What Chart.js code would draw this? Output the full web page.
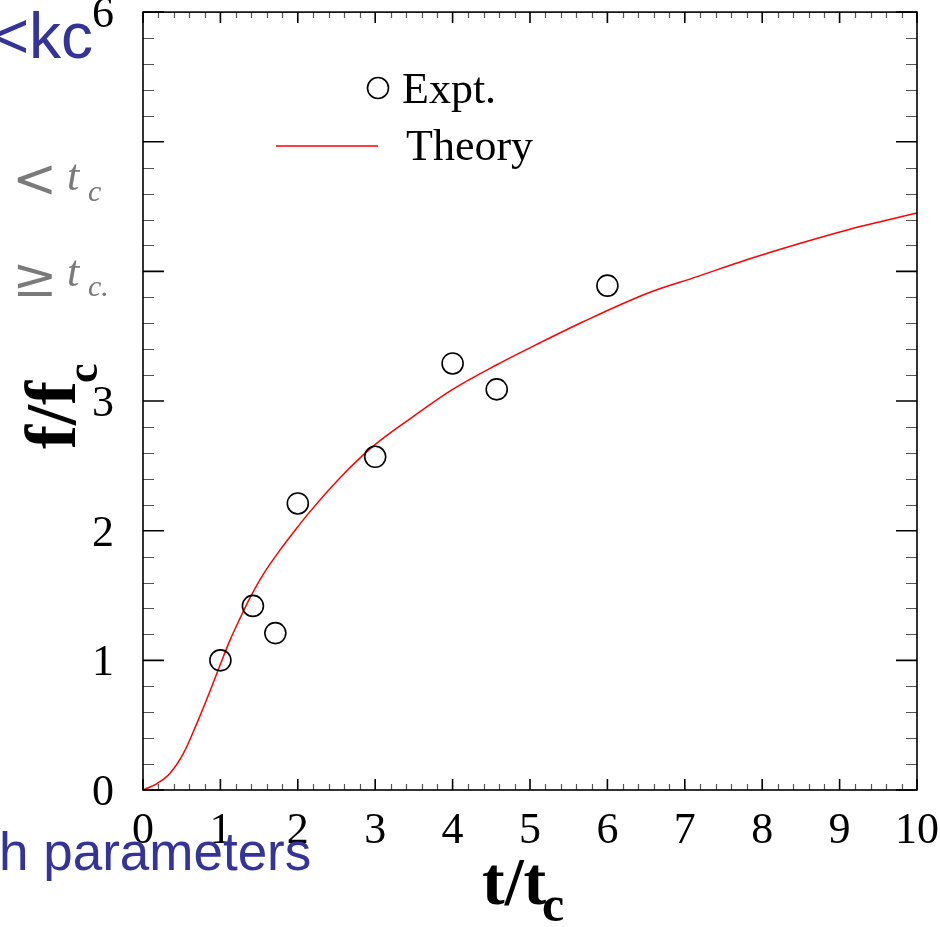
<!DOCTYPE html>
<html>
<head>
<meta charset="utf-8">
<script src="https://cdn.jsdelivr.net/npm/chart.js@4.4.1/dist/chart.umd.min.js"></script>
<style>
  html, body { margin: 0; padding: 0; background: #ffffff; }
  #wrap { width: 940px; height: 927px; position: relative; }
</style>
</head>
<body>
<div id="wrap"><canvas id="c" width="940" height="927"></canvas></div>
<script>
// Measured points (Expt.)
const exptX = [1.0, 1.42, 1.71, 2.0, 3.0, 4.0, 4.57, 6.0];
const exptY = [1.0, 1.42, 1.21, 2.21, 2.57, 3.29, 3.09, 3.89];

// Model curve (Theory)
const theoryX = [0, 0.18, 0.35, 0.52, 0.70, 0.87, 1.0, 1.12, 1.25, 1.38, 1.55, 1.77, 2.0, 2.12, 2.55, 2.97, 3.49, 4.0, 4.57, 5.13, 5.68, 6.51, 7.16, 7.80, 8.45, 9.10, 10];
const theoryY = [0, 0.05, 0.13, 0.28, 0.52, 0.77, 0.97, 1.15, 1.32, 1.48, 1.66, 1.85, 2.03, 2.12, 2.41, 2.65, 2.88, 3.09, 3.28, 3.45, 3.61, 3.83, 3.96, 4.09, 4.21, 4.32, 4.45];

// Axis tick labels
const xTickLabels = ['0', '1', '2', '3', '4', '5', '6', '7', '8', '9', '10'];
const yTickLabels = ['0', '1', '2', '3', '4', '5', '6'];

const seriesNames = ['Expt.', 'Theory'];

const SERIF = '"Liberation Serif", "Times New Roman", serif';
const SANS = '"Liberation Sans", Arial, sans-serif';

// Frame, ROOT-style ticks on all four sides, labels, titles and legend
const framePlugin = {
  id: 'frame',
  afterDatasetsDraw(chart) {
    const ctx = chart.ctx;
    const xs = chart.scales.x, ys = chart.scales.y;
    const a = chart.chartArea;
    ctx.save();

    // minor ticks (every 0.2)
    ctx.strokeStyle = '#555555';
    ctx.lineWidth = 1.2;
    ctx.beginPath();
    for (let i = 1; i < 50; i++) {
      if (i % 5 === 0) continue;
      const px = Math.round(xs.getPixelForValue(i / 5)) + 0.5;
      ctx.moveTo(px, a.bottom); ctx.lineTo(px, a.bottom - 6);
      ctx.moveTo(px, a.top); ctx.lineTo(px, a.top + 6);
    }
    for (let i = 1; i < 30; i++) {
      if (i % 5 === 0) continue;
      const py = Math.round(ys.getPixelForValue(i / 5)) + 0.5;
      ctx.moveTo(a.left, py); ctx.lineTo(a.left + 11, py);
      ctx.moveTo(a.right, py); ctx.lineTo(a.right - 11, py);
    }
    ctx.stroke();

    // major ticks
    ctx.strokeStyle = '#000000';
    ctx.lineWidth = 1.6;
    ctx.beginPath();
    xTickLabels.forEach((t, i) => {
      const px = xs.getPixelForValue(i);
      ctx.moveTo(px, a.bottom); ctx.lineTo(px, a.bottom - 11);
      ctx.moveTo(px, a.top); ctx.lineTo(px, a.top + 11);
    });
    yTickLabels.forEach((t, i) => {
      const py = ys.getPixelForValue(i);
      ctx.moveTo(a.left, py); ctx.lineTo(a.left + 21, py);
      ctx.moveTo(a.right, py); ctx.lineTo(a.right - 21, py);
    });
    ctx.stroke();

    // frame
    ctx.lineWidth = 1.6;
    ctx.strokeRect(a.left, a.top, a.right - a.left, a.bottom - a.top);

    // tick labels
    ctx.fillStyle = '#000000';
    ctx.font = '44px ' + SERIF;
    ctx.textBaseline = 'alphabetic';
    ctx.textAlign = 'center';
    xTickLabels.forEach((t, i) => {
      ctx.fillText(t, xs.getPixelForValue(i), a.bottom + 53);
    });
    ctx.textAlign = 'right';
    yTickLabels.forEach((t, i) => {
      ctx.fillText(t, a.left - 29, ys.getPixelForValue(i) + 15);
    });

    // x title: t/t_c
    ctx.textAlign = 'left';
    ctx.font = 'bold 68px ' + SERIF;
    ctx.fillText('t/t', 482, 904);
    ctx.font = 'bold 50px ' + SERIF;
    ctx.fillText('c', 542, 921);

    // y title: f/f_c (rotated)
    ctx.save();
    ctx.translate(75, 449);
    ctx.rotate(-Math.PI / 2);
    ctx.font = 'bold 72px ' + SERIF;
    ctx.fillText('f/f', 0, 0);
    ctx.font = 'bold 44px ' + SERIF;
    ctx.fillText('c', 66, 22);
    ctx.restore();

    // legend
    ctx.strokeStyle = '#000000';
    ctx.lineWidth = 1.6;
    ctx.beginPath();
    ctx.arc(378, 88, 10.5, 0, Math.PI * 2);
    ctx.stroke();
    ctx.strokeStyle = '#ff0000';
    ctx.lineWidth = 1.4;
    ctx.beginPath();
    ctx.moveTo(276, 146); ctx.lineTo(378, 146);
    ctx.stroke();
    ctx.fillStyle = '#000000';
    ctx.font = '44px ' + SERIF;
    ctx.fillText(seriesNames[0], 402, 103);
    ctx.fillText(seriesNames[1], 406, 160);

    // neighbouring slide content, partly overlapping the left margin
    ctx.fillStyle = '#ffffff';
    ctx.fillRect(0, 110, 128, 200);

    ctx.fillStyle = '#333399';
    ctx.font = '64px ' + SANS;
    ctx.textAlign = 'right';
    ctx.fillText('<kc', 93, 58);
    ctx.textAlign = 'left';
    ctx.font = '53px ' + SANS;
    ctx.fillText('h parameters', -1, 870);

    ctx.fillStyle = '#7a7a7a';
    ctx.font = '54px "DejaVu Serif", serif';
    ctx.fillText('<', 12, 197);
    ctx.fillText('\u2265', 12, 296);
    ctx.font = 'italic 44px ' + SERIF;
    ctx.fillText('t', 67, 190);
    ctx.fillText('t', 67, 286);
    ctx.font = 'italic 30px ' + SERIF;
    ctx.fillText('c', 88, 201);
    ctx.fillText('c.', 88, 296);

    ctx.restore();
  }
};

const chart = new Chart(document.getElementById('c'), {
  type: 'scatter',
  data: {
    datasets: [
      {
        label: seriesNames[1],
        data: theoryX.map((x, i) => ({ x: x, y: theoryY[i] })),
        showLine: true,
        borderColor: '#ff0000',
        borderWidth: 1.5,
        pointRadius: 0,
        cubicInterpolationMode: 'monotone',
        fill: false,
        order: 2
      },
      {
        label: seriesNames[0],
        data: exptX.map((x, i) => ({ x: x, y: exptY[i] })),
        showLine: false,
        pointStyle: 'circle',
        pointRadius: 10.5,
        pointBorderWidth: 1.6,
        borderColor: '#000000',
        backgroundColor: 'rgba(0,0,0,0)',
        order: 1
      }
    ]
  },
  options: {
    responsive: false,
    animation: false,
    layout: { padding: { top: 10, right: 23, left: 0, bottom: 0 } },
    plugins: { legend: { display: false }, tooltip: { enabled: false } },
    scales: {
      x: {
        type: 'linear', min: 0, max: 10,
        grid: { display: false, drawTicks: false },
        border: { display: false },
        ticks: { display: false },
        afterFit(s) { s.height = 137; }
      },
      y: {
        type: 'linear', min: 0, max: 6,
        grid: { display: false, drawTicks: false },
        border: { display: false },
        ticks: { display: false },
        afterFit(s) { s.width = 143; }
      }
    }
  },
  plugins: [framePlugin]
});
</script>
</body>
</html>
